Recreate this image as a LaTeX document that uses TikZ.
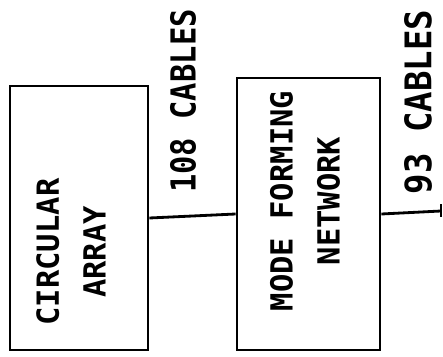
\documentclass[tikz,border=0pt]{standalone}
\usepackage{fontspec}
\newfontfamily\monofont{DejaVu Sans Mono}

\begin{document}
\begin{tikzpicture}[x=0.03cm,y=0.03cm,line width=2.4pt,
  every node/.style={align=center,rotate=90,inner sep=0pt},
  blk/.style={draw},
  txt/.style={font=\monofont\bfseries\fontsize{26}{40}\selectfont},
  cbl/.style={font=\monofont\bfseries\fontsize{#1}{30}\selectfont}]
\useasboundingbox (0,0) rectangle (443,356);
\node[blk,minimum width=7.92cm,minimum height=4.14cm] (ca) at (79,138) {};
\node[blk,minimum width=8.16cm,minimum height=4.29cm] (mfn) at (308.5,142) {};
\node[txt] (ca-txt) at (71,104) {CIRCULAR\\ARRAY};
\node[txt] (mfn-txt) at (305,155) {MODE FORMING\\NETWORK};
\node[cbl=26] (c108) at (183,255) {\scalebox{1}[1.13]{108 CABLES}};
\node[cbl=29] (c93) at (418,254) {\scalebox{1}[1.08]{93 CABLES}};
\coordinate (cut) at (441,145);
\draw (ca.south)--(mfn.north);\draw (mfn.south)--(cut);
\draw ([yshift=-5]cut)--([yshift=6]cut);
\end{tikzpicture}
\end{document}
